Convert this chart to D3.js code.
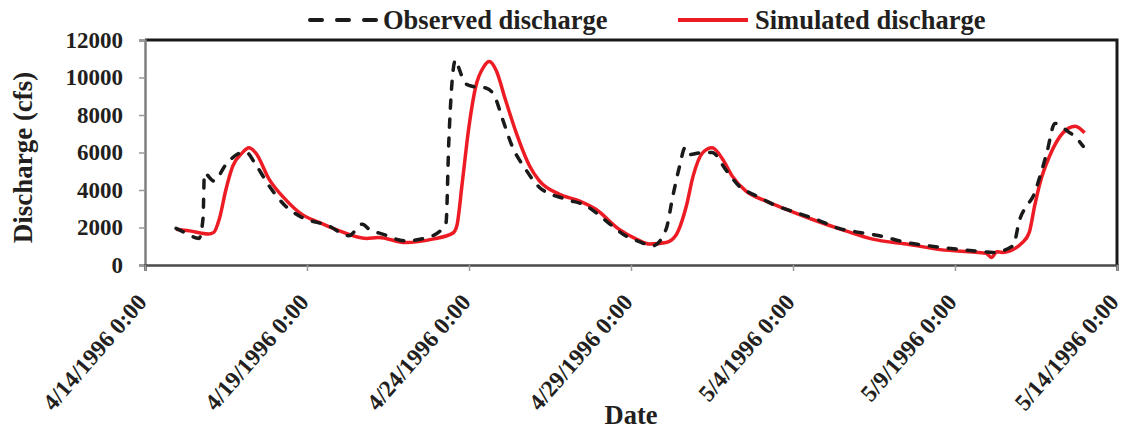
<!DOCTYPE html>
<html>
<head>
<meta charset="utf-8">
<script src="https://cdn.jsdelivr.net/npm/d3@7"></script>
<style>
  html, body { margin: 0; padding: 0; background: #fff; }
  svg { display: block; font-family: "Liberation Serif", "Times New Roman", serif; font-weight: bold; }
</style>
</head>
<body>
<svg id="chart" width="1131" height="431"></svg>
<script>
// Observed discharge (cfs), hourly stamps
const obsTimes = [
  "1996-04-14 23:00","1996-04-15 05:00","1996-04-15 16:00","1996-04-15 19:00","1996-04-15 20:00",
  "1996-04-16 03:00","1996-04-16 12:00","1996-04-16 23:00","1996-04-17 03:00","1996-04-17 10:00",
  "1996-04-17 20:00","1996-04-18 08:00","1996-04-18 20:00","1996-04-19 16:00","1996-04-20 07:00",
  "1996-04-20 17:00","1996-04-20 22:00","1996-04-21 08:00","1996-04-22 01:00","1996-04-22 21:00",
  "1996-04-23 07:00","1996-04-23 09:00","1996-04-23 14:00","1996-04-23 17:00","1996-04-23 21:00",
  "1996-04-24 03:00","1996-04-24 13:00","1996-04-24 19:00","1996-04-25 01:00","1996-04-25 08:00",
  "1996-04-25 18:00","1996-04-26 04:00","1996-04-27 00:00","1996-04-27 15:00","1996-04-28 01:00",
  "1996-04-28 10:00","1996-04-28 20:00","1996-04-29 06:00","1996-04-29 16:00","1996-04-30 02:00",
  "1996-04-30 07:00","1996-04-30 12:00","1996-04-30 16:00","1996-04-30 19:00","1996-05-01 03:00",
  "1996-05-01 12:00","1996-05-01 22:00","1996-05-02 08:00","1996-05-02 21:00","1996-05-03 12:00",
  "1996-05-04 02:00","1996-05-04 17:00","1996-05-05 10:00","1996-05-06 01:00","1996-05-06 16:00",
  "1996-05-07 12:00","1996-05-08 05:00","1996-05-09 01:00","1996-05-09 21:00","1996-05-10 04:00",
  "1996-05-10 19:00","1996-05-11 00:00","1996-05-11 05:00","1996-05-11 10:00","1996-05-11 15:00",
  "1996-05-11 20:00","1996-05-12 02:00","1996-05-12 13:00","1996-05-12 15:00","1996-05-12 23:00"
];
const obsValues = [
  1950, 1750, 1420, 2500, 4900,
  4480, 5360, 5980, 6000, 5360,
  4210, 3150, 2550, 2090, 1560,
  2180, 1910, 1650, 1290, 1560,
  2270, 6500, 10940, 10400, 9700,
  9520, 9430, 8990, 7750, 6330,
  5100, 4150, 3500, 3150, 2620,
  2090, 1560, 1250, 1020, 1910,
  3680, 5270, 6250, 5890, 5980,
  6000, 5100, 4210, 3680, 3150,
  2800, 2440, 1950, 1740, 1560,
  1200, 1020, 850, 710, 670,
  1020, 2440, 3150, 3680, 4740,
  5980, 7550, 7050, 6960, 6330
];

// Simulated discharge (cfs)
const simTimes = [
  "1996-04-14 23:00","1996-04-15 09:00","1996-04-15 23:00","1996-04-16 03:00","1996-04-16 07:00",
  "1996-04-16 12:00","1996-04-16 17:00","1996-04-17 00:00","1996-04-17 05:00","1996-04-17 10:00",
  "1996-04-17 20:00","1996-04-18 08:00","1996-04-18 20:00","1996-04-19 09:00","1996-04-20 00:00",
  "1996-04-20 20:00","1996-04-21 05:00","1996-04-22 01:00","1996-04-22 21:00","1996-04-23 12:00",
  "1996-04-23 15:00","1996-04-23 19:00","1996-04-24 00:00","1996-04-24 05:00","1996-04-24 11:00",
  "1996-04-24 15:00","1996-04-24 20:00","1996-04-25 03:00","1996-04-25 11:00","1996-04-25 21:00",
  "1996-04-26 04:00","1996-04-26 19:00","1996-04-27 10:00","1996-04-27 22:00","1996-04-28 15:00",
  "1996-04-29 04:00","1996-04-29 14:00","1996-04-30 02:00","1996-04-30 09:00","1996-04-30 17:00",
  "1996-04-30 22:00","1996-05-01 05:00","1996-05-01 12:00","1996-05-01 20:00","1996-05-02 03:00",
  "1996-05-02 13:00","1996-05-03 04:00","1996-05-03 19:00","1996-05-04 14:00","1996-05-05 15:00",
  "1996-05-06 11:00","1996-05-07 12:00","1996-05-08 13:00","1996-05-09 23:00","1996-05-10 03:00",
  "1996-05-10 07:00","1996-05-10 11:00","1996-05-11 02:00","1996-05-11 07:00","1996-05-11 11:00",
  "1996-05-11 15:00","1996-05-11 22:00","1996-05-12 08:00","1996-05-12 17:00","1996-05-13 00:00"
];
const simValues = [
  1910, 1820, 1650, 1740, 2440,
  4040, 5270, 5980, 6250, 5980,
  4570, 3500, 2710, 2270, 1820,
  1420, 1470, 1200, 1380, 1700,
  2090, 4390, 7400, 9520, 10580,
  10850, 10400, 8810, 7050, 5270,
  4500, 3770, 3410, 2970, 1910,
  1380, 1120, 1200, 1560, 3150,
  4740, 5980, 6250, 5630, 4740,
  3950, 3410, 2970, 2440, 1820,
  1380, 1120, 820, 620, 400,
  710, 670, 1200, 1740, 3150,
  4390, 5800, 7050, 7400, 7050
];

const xTickDates = ["1996-04-14","1996-04-19","1996-04-24","1996-04-29","1996-05-04","1996-05-09","1996-05-14"];
const yTickValues = [0, 2000, 4000, 6000, 8000, 10000, 12000];
const seriesNames = ["Observed discharge", "Simulated discharge"];

const parseTime = d3.utcParse("%Y-%m-%d %H:%M");
const parseDay = d3.utcParse("%Y-%m-%d");
const fmtTick = d3.utcFormat("%-m/%-d/%Y %-H:%M");

const observed = obsTimes.map((t, i) => ({ t: parseTime(t), v: obsValues[i] }));
const simulated = simTimes.map((t, i) => ({ t: parseTime(t), v: simValues[i] }));
const xTicks = xTickDates.map(parseDay);

const svg = d3.select("#chart");
const plotL = 145, plotR = 1117, plotT = 40, plotB = 265;

const x = d3.scaleUtc().domain([xTicks[0], xTicks[xTicks.length - 1]]).range([plotL, plotR]);
const y = d3.scaleLinear().domain([0, 12000]).range([plotB, plotT]);

const line = d3.line().x(d => x(d.t)).y(d => y(d.v)).curve(d3.curveMonotoneX);

// Plot frame: heavy black top and right edges
svg.append("path")
  .attr("d", `M${plotL},${plotT}H${plotR}V${plotB}`)
  .attr("fill", "none").attr("stroke", "#1a1a1a").attr("stroke-width", 3);

// Series
const plot = svg.append("g");
plot.append("path").datum(simulated)
  .attr("d", line).attr("fill", "none")
  .attr("stroke", "#ED1C24").attr("stroke-width", 3.5).attr("stroke-linejoin", "round");
plot.append("path").datum(observed)
  .attr("d", line).attr("fill", "none")
  .attr("stroke", "#1a1a1a").attr("stroke-width", 3.5)
  .attr("stroke-dasharray", "8,11").attr("stroke-linecap", "round");

// Y axis
const yAxis = svg.append("g").attr("transform", `translate(${plotL},0)`)
  .call(d3.axisLeft(y).tickValues(yTickValues).tickSize(6).tickPadding(16).tickFormat(d3.format("d")));
yAxis.select(".domain").attr("stroke", "#808080").attr("stroke-width", 2.5);
yAxis.selectAll(".tick line").attr("stroke", "#9a9a9a").attr("stroke-width", 1.5);
yAxis.selectAll(".tick text")
  .attr("font-family", "Liberation Serif, serif").attr("font-weight", "bold")
  .attr("font-size", 23).attr("fill", "#231f20");

// X axis
const xAxis = svg.append("g").attr("transform", `translate(0,${plotB})`)
  .call(d3.axisBottom(x).tickValues(xTicks).tickSize(6).tickFormat(""));
xAxis.select(".domain").attr("stroke", "#4a4a4a").attr("stroke-width", 2.5);
xAxis.selectAll(".tick line").attr("stroke", "#9a9a9a").attr("stroke-width", 1.5);

svg.append("g").selectAll("text").data(xTicks).join("text")
  .attr("transform", d => `translate(${x(d) + 3},${plotB + 38}) rotate(-49)`)
  .attr("text-anchor", "end")
  .attr("font-size", 23.5).attr("fill", "#231f20")
  .text(d => fmtTick(d));

// Axis titles
svg.append("text")
  .attr("transform", `translate(32,${(plotT + plotB) / 2 + 5}) rotate(-90)`)
  .attr("text-anchor", "middle").attr("font-size", 27).attr("fill", "#231f20")
  .text("Discharge (cfs)");
svg.append("text")
  .attr("x", 631).attr("y", 424)
  .attr("text-anchor", "middle").attr("font-size", 26.5).attr("fill", "#231f20")
  .text("Date");

// Legend
const legend = svg.append("g");
legend.append("line").attr("x1", 310).attr("x2", 376).attr("y1", 20).attr("y2", 20)
  .attr("stroke", "#1a1a1a").attr("stroke-width", 4)
  .attr("stroke-dasharray", "12,15").attr("stroke-linecap", "round");
legend.append("text").attr("x", 383).attr("y", 29).attr("font-size", 26.5).attr("fill", "#231f20")
  .text(seriesNames[0]);
legend.append("line").attr("x1", 678).attr("x2", 748).attr("y1", 20).attr("y2", 20)
  .attr("stroke", "#ED1C24").attr("stroke-width", 4);
legend.append("text").attr("x", 755).attr("y", 29).attr("font-size", 26.5).attr("fill", "#231f20")
  .text(seriesNames[1]);
</script>
</body>
</html>
